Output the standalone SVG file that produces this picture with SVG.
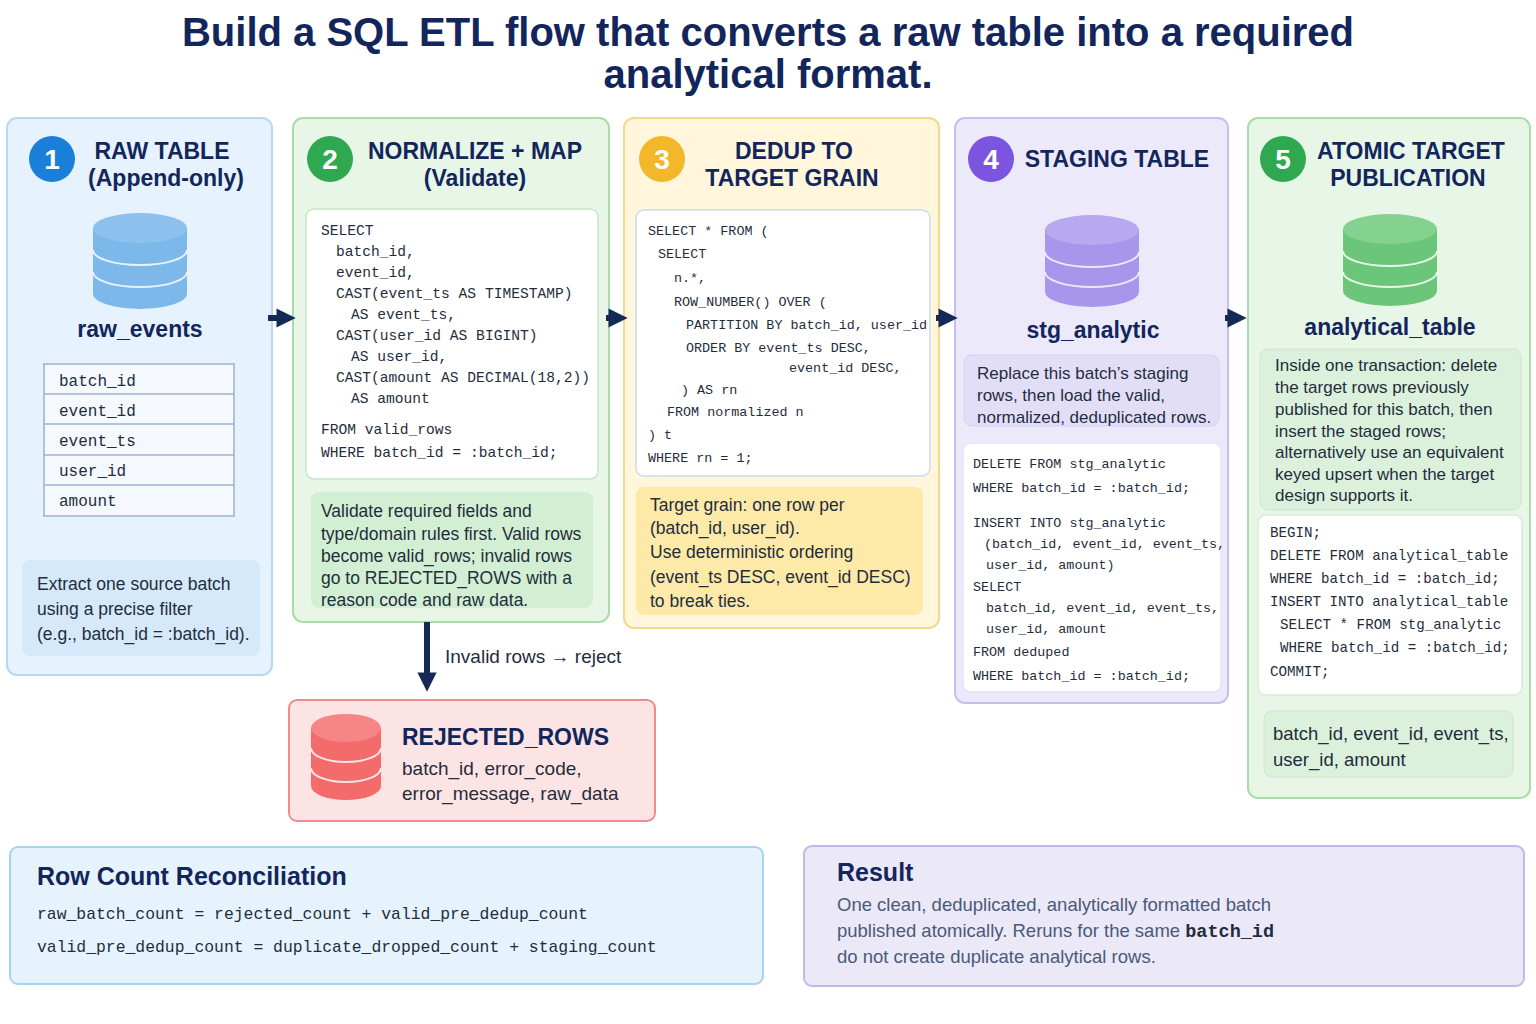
<svg xmlns="http://www.w3.org/2000/svg" width="1536" height="1024" viewBox="0 0 1536 1024">
<style>
.t{font-family:"Liberation Sans",Arial,sans-serif;fill:#1f2d3d}
.h{font-family:"Liberation Sans",Arial,sans-serif;font-weight:bold;fill:#13265c}
.m{font-family:"Liberation Mono","DejaVu Sans Mono",monospace;fill:#1f2d3d}
.n{font-family:"Liberation Sans",Arial,sans-serif;font-weight:bold;font-size:28px;fill:#fff}
.code{fill:#fff;stroke-width:1.5}
</style>
<defs>
<marker id="ah" viewBox="0 0 10 10" refX="6" refY="5" markerWidth="3.2" markerHeight="3.2" orient="auto"><path d="M0,0L10,5L0,10z" fill="#142a55"/></marker>
</defs>
<rect width="1536" height="1024" fill="#fff"/>
<text class="h" x="768" y="46" font-size="40" text-anchor="middle">Build a SQL ETL flow that converts a raw table into a required</text>
<text class="h" x="768" y="88" font-size="40" text-anchor="middle">analytical format.</text>

<g id="raw">
<rect x="7" y="118" width="265" height="557" rx="10" fill="#e6f2fd" stroke="#b8d8f2" stroke-width="2"/>
<circle cx="52" cy="159" r="23" fill="#1a7fd9"/><text class="n" x="52" y="169" text-anchor="middle">1</text>
<text class="h" x="162" y="159" font-size="23" text-anchor="middle">RAW TABLE</text>
<text class="h" x="166" y="186" font-size="23" text-anchor="middle">(Append-only)</text>
<path d="M93,228v66a47,15 0 0 0 94,0v-66" fill="#7db8ea"/><ellipse cx="140" cy="228" rx="47" ry="15" fill="#8ec2ee"/>
<path d="M93,250a47,15 0 0 0 94,0M93,272a47,15 0 0 0 94,0" fill="none" stroke="#e6f2fd" stroke-width="2"/>
<text class="h" x="140" y="337" font-size="23" text-anchor="middle">raw_events</text>
<rect x="44" y="364" width="190" height="152" fill="#f5f9fe" stroke="#9fb0cf" stroke-width="1.5"/>
<path d="M44,394h190M44,424h190M44,455h190M44,485h190" stroke="#9fb0cf" stroke-width="1.5"/>
<g class="m" font-size="16"><text x="59" y="386">batch_id</text><text x="59" y="416">event_id</text><text x="59" y="446">event_ts</text><text x="59" y="476">user_id</text><text x="59" y="506">amount</text></g>
<rect x="22" y="560" width="238" height="96" rx="8" fill="#d5e9fa"/>
<text class="t" font-size="17.5"><tspan x="37" y="590">Extract one source batch</tspan><tspan x="37" y="615">using a precise filter</tspan><tspan x="37" y="640">(e.g., batch_id = :batch_id).</tspan></text>
</g>

<g id="normalize">
<rect x="293" y="118" width="316" height="504" rx="10" fill="#e8f6e8" stroke="#a8dca8" stroke-width="2"/>
<circle cx="330" cy="159" r="23" fill="#2fa84f"/><text class="n" x="330" y="169" text-anchor="middle">2</text>
<text class="h" x="475" y="159" font-size="23" text-anchor="middle">NORMALIZE + MAP</text>
<text class="h" x="475" y="186" font-size="23" text-anchor="middle">(Validate)</text>
<rect class="code" x="306" y="209" width="292" height="270" rx="8" stroke="#c5e6c5"/>
<text class="m" font-size="14.6"><tspan x="321" y="235">SELECT</tspan><tspan x="336" y="256">batch_id,</tspan><tspan x="336" y="277">event_id,</tspan><tspan x="336" y="298">CAST(event_ts AS TIMESTAMP)</tspan><tspan x="351" y="319">AS event_ts,</tspan><tspan x="336" y="340">CAST(user_id AS BIGINT)</tspan><tspan x="351" y="361">AS user_id,</tspan><tspan x="336" y="382">CAST(amount AS DECIMAL(18,2))</tspan><tspan x="351" y="403">AS amount</tspan><tspan x="321" y="434">FROM valid_rows</tspan><tspan x="321" y="457">WHERE batch_id = :batch_id;</tspan></text>
<rect x="311" y="492" width="282" height="116" rx="8" fill="#d3efd3"/>
<text class="t" font-size="17.5"><tspan x="321" y="517">Validate required fields and</tspan><tspan x="321" y="540">type/domain rules first. Valid rows</tspan><tspan x="321" y="562">become valid_rows; invalid rows</tspan><tspan x="321" y="584">go to REJECTED_ROWS with a</tspan><tspan x="321" y="606">reason code and raw data.</tspan></text>
</g>

<g id="dedup">
<rect x="624" y="118" width="315" height="510" rx="10" fill="#fff6dc" stroke="#f3d98a" stroke-width="2"/>
<circle cx="662" cy="159" r="23" fill="#f2b82a"/><text class="n" x="662" y="169" text-anchor="middle">3</text>
<text class="h" x="794" y="159" font-size="23" text-anchor="middle">DEDUP TO</text>
<text class="h" x="792" y="186" font-size="23" text-anchor="middle">TARGET GRAIN</text>
<rect class="code" x="636" y="210" width="294" height="266" rx="8" stroke="#c9dcf0"/>
<text class="m" font-size="13.4"><tspan x="648" y="235">SELECT * FROM (</tspan><tspan x="658" y="258">SELECT</tspan><tspan x="674" y="282">n.*,</tspan><tspan x="674" y="306">ROW_NUMBER() OVER (</tspan><tspan x="686" y="329">PARTITION BY batch_id, user_id</tspan><tspan x="686" y="352">ORDER BY event_ts DESC,</tspan><tspan x="789" y="372">event_id DESC,</tspan><tspan x="681" y="394">) AS rn</tspan><tspan x="667" y="416">FROM normalized n</tspan><tspan x="648" y="439">) t</tspan><tspan x="648" y="462">WHERE rn = 1;</tspan></text>
<rect x="636" y="487" width="287" height="128" rx="8" fill="#fde9a8"/>
<text class="t" font-size="17.5"><tspan x="650" y="511">Target grain: one row per</tspan><tspan x="650" y="534">(batch_id, user_id).</tspan><tspan x="650" y="558">Use deterministic ordering</tspan><tspan x="650" y="583">(event_ts DESC, event_id DESC)</tspan><tspan x="650" y="607">to break ties.</tspan></text>
</g>

<g id="staging">
<rect x="955" y="118" width="273" height="585" rx="10" fill="#ece9fb" stroke="#c6bff0" stroke-width="2"/>
<circle cx="991" cy="159" r="23" fill="#7b55e0"/><text class="n" x="991" y="169" text-anchor="middle">4</text>
<text class="h" x="1117" y="167" font-size="23" text-anchor="middle">STAGING TABLE</text>
<path d="M1045,230v62a47,15 0 0 0 94,0v-62" fill="#a895ec"/><ellipse cx="1092" cy="230" rx="47" ry="15" fill="#b7a8f0"/>
<path d="M1045,252a47,15 0 0 0 94,0M1045,272a47,15 0 0 0 94,0" fill="none" stroke="#ece9fb" stroke-width="2"/>
<text class="h" x="1093" y="338" font-size="23" text-anchor="middle">stg_analytic</text>
<rect x="964" y="355" width="255" height="71" rx="8" fill="#e3def8" stroke="#d6cff4"/>
<text class="t" font-size="17"><tspan x="977" y="379">Replace this batch’s staging</tspan><tspan x="977" y="401">rows, then load the valid,</tspan><tspan x="977" y="423">normalized, deduplicated rows.</tspan></text>
<rect class="code" x="963" y="443" width="258" height="249" rx="8" stroke="#e6e2f8"/>
<text class="m" font-size="13.4"><tspan x="973" y="468">DELETE FROM stg_analytic</tspan><tspan x="973" y="492">WHERE batch_id = :batch_id;</tspan><tspan x="973" y="527">INSERT INTO stg_analytic</tspan><tspan x="984" y="548">(batch_id, event_id, event_ts,</tspan><tspan x="986" y="569">user_id, amount)</tspan><tspan x="973" y="591">SELECT</tspan><tspan x="986" y="612">batch_id, event_id, event_ts,</tspan><tspan x="986" y="633">user_id, amount</tspan><tspan x="973" y="656">FROM deduped</tspan><tspan x="973" y="680">WHERE batch_id = :batch_id;</tspan></text>
</g>

<g id="target">
<rect x="1248" y="118" width="282" height="680" rx="10" fill="#e8f6e8" stroke="#a8dca8" stroke-width="2"/>
<circle cx="1283" cy="159" r="23" fill="#2fa84f"/><text class="n" x="1283" y="169" text-anchor="middle">5</text>
<text class="h" x="1411" y="159" font-size="23" text-anchor="middle">ATOMIC TARGET</text>
<text class="h" x="1408" y="186" font-size="23" text-anchor="middle">PUBLICATION</text>
<path d="M1343,229v62a47,15 0 0 0 94,0v-62" fill="#6cc67a"/><ellipse cx="1390" cy="229" rx="47" ry="15" fill="#85d190"/>
<path d="M1343,251a47,15 0 0 0 94,0M1343,272a47,15 0 0 0 94,0" fill="none" stroke="#e8f6e8" stroke-width="2"/>
<text class="h" x="1390" y="335" font-size="23" text-anchor="middle">analytical_table</text>
<rect x="1260" y="349" width="261" height="161" rx="8" fill="#dcf1dc" stroke="#cbe8cb"/>
<text class="t" font-size="17"><tspan x="1275" y="371">Inside one transaction: delete</tspan><tspan x="1275" y="393">the target rows previously</tspan><tspan x="1275" y="415">published for this batch, then</tspan><tspan x="1275" y="437">insert the staged rows;</tspan><tspan x="1275" y="458">alternatively use an equivalent</tspan><tspan x="1275" y="480">keyed upsert when the target</tspan><tspan x="1275" y="501">design supports it.</tspan></text>
<rect class="code" x="1258" y="515" width="264" height="180" rx="8" stroke="#d6ecd6"/>
<text class="m" font-size="14.2"><tspan x="1270" y="537">BEGIN;</tspan><tspan x="1270" y="560">DELETE FROM analytical_table</tspan><tspan x="1270" y="583">WHERE batch_id = :batch_id;</tspan><tspan x="1270" y="606">INSERT INTO analytical_table</tspan><tspan x="1280" y="629">SELECT * FROM stg_analytic</tspan><tspan x="1280" y="652">WHERE batch_id = :batch_id;</tspan><tspan x="1270" y="676">COMMIT;</tspan></text>
<rect x="1264" y="711" width="249" height="66" rx="8" fill="#dcf1dc" stroke="#cbe8cb"/>
<text class="t" font-size="18.5"><tspan x="1273" y="740">batch_id, event_id, event_ts,</tspan><tspan x="1273" y="766">user_id, amount</tspan></text>
</g>

<g id="rejected">
<rect x="289" y="700" width="366" height="121" rx="8" fill="#fde4e4" stroke="#f08c8c" stroke-width="2"/>
<path d="M311,728v58a35,14 0 0 0 70,0v-58" fill="#f36b6b"/><ellipse cx="346" cy="728" rx="35" ry="14" fill="#f78585"/>
<path d="M311,748a35,14 0 0 0 70,0M311,768a35,14 0 0 0 70,0" fill="none" stroke="#fde4e4" stroke-width="2"/>
<text class="h" x="402" y="745" font-size="23">REJECTED_ROWS</text>
<text class="t" font-size="19"><tspan x="402" y="775">batch_id, error_code,</tspan><tspan x="402" y="800">error_message, raw_data</tspan></text>
</g>

<g id="reconciliation">
<rect x="10" y="847" width="753" height="137" rx="8" fill="#e6f3fd" stroke="#a9d2f0" stroke-width="2"/>
<text class="h" x="37" y="885" font-size="25">Row Count Reconciliation</text>
<text class="m" font-size="16.4"><tspan x="37" y="919">raw_batch_count = rejected_count + valid_pre_dedup_count</tspan><tspan x="37" y="952">valid_pre_dedup_count = duplicate_dropped_count + staging_count</tspan></text>
</g>

<g id="result">
<rect x="804" y="846" width="720" height="140" rx="8" fill="#ebe8f8" stroke="#c0b8e8" stroke-width="2"/>
<text class="h" x="837" y="881" font-size="25">Result</text>
<text class="t" font-size="18.5" style="fill:#4a5a78"><tspan x="837" y="911">One clean, deduplicated, analytically formatted batch</tspan><tspan x="837" y="937">published atomically. Reruns for the same <tspan style="font-family:'Liberation Mono',monospace;font-weight:bold;fill:#1f2d3d">batch_id</tspan></tspan><tspan x="837" y="963">do not create duplicate analytical rows.</tspan></text>
</g>

<g id="connectors" stroke="#142a55" stroke-width="6" fill="none" marker-end="url(#ah)">
<path d="M268,318h20"/>
<path d="M606,318h14"/>
<path d="M936,318h14"/>
<path d="M1225,318h14"/>
<path d="M427,622v62"/>
</g>
<text class="t" x="445" y="663" font-size="19">Invalid rows → reject</text>
</svg>
